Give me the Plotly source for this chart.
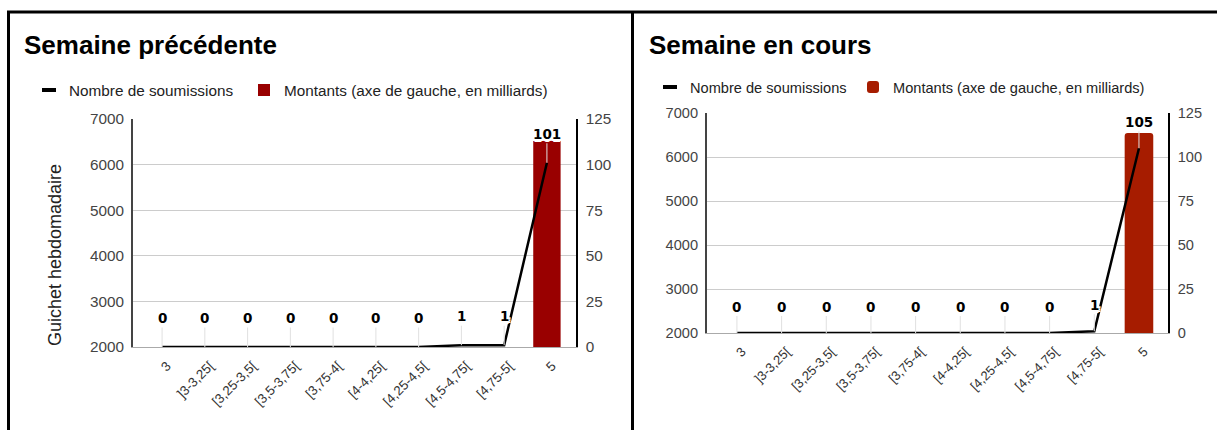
import plotly.graph_objects as go

# ---------------- data ----------------
categories = ["3", "]3-3,25[", "[3,25-3,5[", "[3,5-3,75[", "[3,75-4[",
              "[4-4,25[", "[4,25-4,5[", "[4,5-4,75[", "[4,75-5[", "5"]

prev_montants = [0, 0, 0, 0, 0, 0, 0, 0, 0, 6540]
prev_soumissions = [0, 0, 0, 0, 0, 0, 0, 1, 1, 101]

cur_montants = [0, 0, 0, 0, 0, 0, 0, 0, 0, 6545]
cur_soumissions = [0, 0, 0, 0, 0, 0, 0, 0, 1, 105]

left_ticks = [2000, 3000, 4000, 5000, 6000, 7000]
right_ticks = [0, 25, 50, 75, 100, 125]

titles = ["Semaine précédente", "Semaine en cours"]
name_line = "Nombre de soumissions"
name_bar = "Montants (axe de gauche, en milliards)"
y_title = "Guichet hebdomadaire"

# ---------------- layout constants ----------------
W, H = 1217, 430
FONT = "Liberation Sans, Arial, sans-serif"
LABEL_FONT = "DejaVu Sans, Verdana, sans-serif"


def px(x):
    return x / W


def py(y):
    return 1 - y / H


fig = go.Figure()

panels = [
    dict(mont=prev_montants, soum=prev_soumissions, color="#990000",
         xa="x", ya="y", ya2="y2", leg_line="legend", leg_bar="legend3",
         offset=-29, radius=0),
    dict(mont=cur_montants, soum=cur_soumissions, color="#a61c00",
         xa="x2", ya="y3", ya2="y4", leg_line="legend2", leg_bar="legend4",
         offset=-26.5, radius=3),
]

for p in panels:
    # legend swatch for the line series
    fig.add_trace(go.Scatter(
        x=[None], y=[None], mode="markers", name=name_line,
        marker=dict(symbol="line-ew", size=10, color="black",
                    line=dict(width=4, color="black")),
        xaxis=p["xa"], yaxis=p["ya2"], legend=p["leg_line"], hoverinfo="skip"))
    fig.add_trace(go.Bar(
        x=categories, y=p["mont"], name=name_bar, width=0.64,
        marker=dict(color=p["color"], line=dict(width=0), cornerradius=p["radius"]),
        xaxis=p["xa"], yaxis=p["ya"], legend=p["leg_bar"]))
    fig.add_trace(go.Scatter(
        x=categories, y=p["soum"], mode="lines", name=name_line,
        line=dict(color="black", width=2.5), showlegend=False,
        xaxis=p["xa"], yaxis=p["ya2"]))

HALO = ("-2px -2px 0 #fff, 2px -2px 0 #fff, -2px 2px 0 #fff, 2px 2px 0 #fff, "
        "0 -2px 0 #fff, 0 2px 0 #fff, -2px 0 0 #fff, 2px 0 0 #fff, 0 3px 0 #fff")

annotations = []
for p in panels:
    yref = p["ya2"]
    for i, v in enumerate(p["soum"]):
        annotations.append(dict(
            x=i, y=v, xref=p["xa"], yref=yref, text=str(v),
            showarrow=True, arrowhead=0, arrowwidth=1, arrowcolor="#e0e0e0",
            ax=0, ay=p["offset"], standoff=0,
            font=dict(family=LABEL_FONT, size=13.5, color="black", weight="bold",
                      shadow=HALO)))

# titles
annotations.append(dict(x=px(22), y=py(45), xref="paper", yref="paper", text="<b>%s</b>" % titles[0],
                        showarrow=False, xanchor="left", yanchor="middle",
                        font=dict(family=FONT, size=26, color="black")))
annotations.append(dict(x=px(647), y=py(45), xref="paper", yref="paper", text="<b>%s</b>" % titles[1],
                        showarrow=False, xanchor="left", yanchor="middle",
                        font=dict(family=FONT, size=26, color="black")))
# y axis title (left panel)
annotations.append(dict(x=px(55), y=py(255), xref="paper", yref="paper", text=y_title,
                        showarrow=False, textangle=-90, xanchor="center", yanchor="middle",
                        font=dict(family=FONT, size=18, color="#222")))

shapes = [
    dict(type="line", xref="paper", yref="paper", x0=px(7), x1=1, y0=py(12), y1=py(12),
         line=dict(color="black", width=3)),
    dict(type="line", xref="paper", yref="paper", x0=px(8.5), x1=px(8.5), y0=py(12), y1=0,
         line=dict(color="black", width=3)),
    dict(type="line", xref="paper", yref="paper", x0=px(632.5), x1=px(632.5), y0=py(12), y1=0,
         line=dict(color="black", width=3)),
]


def xaxis(dom, anchor, rng, fs):
    return dict(domain=dom, anchor=anchor, type="category", range=rng, automargin=False,
                tickangle=-45, showgrid=False, showline=True, linecolor="#aaaaaa",
                linewidth=1, ticks="", ticklabelstandoff=5, ticklabelshift=5,
                tickfont=dict(family=FONT, size=fs, color="#333"),
                fixedrange=True)


def yleft(dom, anchor, fs):
    return dict(domain=dom, anchor=anchor, range=[2000, 7000], tickvals=left_ticks,
                automargin=False,
                showgrid=True, gridcolor="#cccccc", gridwidth=1, zeroline=False,
                showline=True, linecolor="#444444", linewidth=2,
                ticks="outside", ticklen=4, tickcolor="rgba(0,0,0,0)",
                tickfont=dict(family=FONT, size=fs, color="#444"), fixedrange=True)


def yright(over, anchor, fs):
    return dict(overlaying=over, anchor=anchor, side="right", range=[0, 125],
                tickvals=right_ticks, showgrid=False, zeroline=False, automargin=False,
                showline=True, linecolor="black", linewidth=1.5,
                ticks="outside", ticklen=5, tickcolor="rgba(0,0,0,0)",
                tickfont=dict(family=FONT, size=fs, color="#444"), fixedrange=True)


def legend(x, y, fs):
    return dict(orientation="h", x=px(x), y=py(y), xanchor="left", yanchor="middle",
                font=dict(family=FONT, size=fs, color="#222"), bgcolor="rgba(0,0,0,0)")


fig.update_layout(
    width=W, height=H, margin=dict(l=0, r=0, t=0, b=0, pad=0, autoexpand=False),
    paper_bgcolor="white", plot_bgcolor="white",
    font=dict(family=FONT, color="#222"),
    barmode="overlay",
    xaxis=xaxis([px(133), px(576)], "y", [-0.68, 9.68], 13.3),
    yaxis=yleft([py(347), py(119)], "x", 15.3),
    yaxis2=yright("y", "x", 15.3),
    xaxis2=xaxis([px(707), px(1168)], "y3", [-0.67, 9.65], 13),
    yaxis3=yleft([py(333), py(113)], "x2", 14.6),
    yaxis4=yright("y3", "x2", 14.6),
    legend=legend(29, 90, 15.3),
    legend3=legend(244, 90, 15.3),
    legend2=legend(650, 87, 14.6),
    legend4=legend(853, 87, 14.6),
    annotations=annotations,
    shapes=shapes,
    showlegend=True,
)

POST = ("document.documentElement.style.margin='0';"
        "document.body.style.margin='0';document.body.style.padding='0';"
        "document.body.style.overflow='hidden';"
        "var d=document.getElementById('{plot_id}');"
        "d.style.position='fixed';d.style.top='0px';d.style.left='0px';")

fig.write_html("out.html", post_script=POST, config={"displayModeBar": False})
